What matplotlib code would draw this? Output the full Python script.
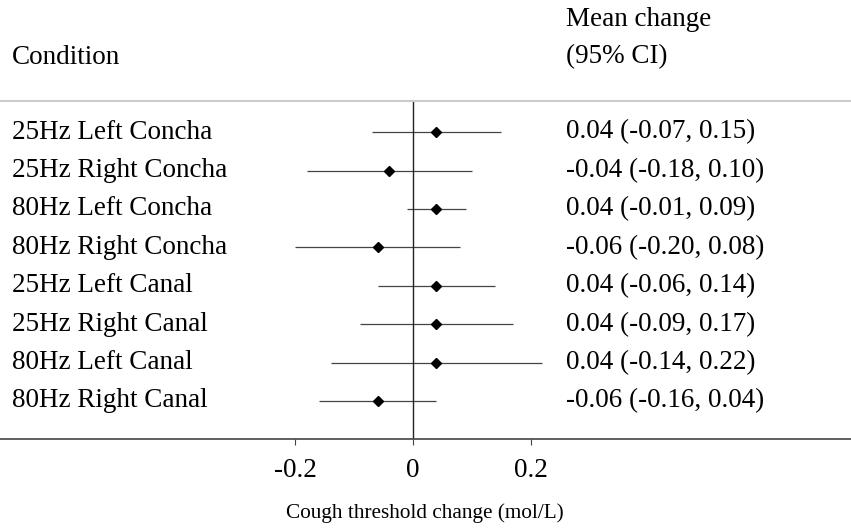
import matplotlib.pyplot as plt

conditions = ["25Hz Left Concha", "25Hz Right Concha", "80Hz Left Concha", "80Hz Right Concha",
              "25Hz Left Canal", "25Hz Right Canal", "80Hz Left Canal", "80Hz Right Canal"]
means = [0.04, -0.04, 0.04, -0.06, 0.04, 0.04, 0.04, -0.06]
lower = [-0.07, -0.18, -0.01, -0.20, -0.06, -0.09, -0.14, -0.16]
upper = [0.15, 0.10, 0.09, 0.08, 0.14, 0.17, 0.22, 0.04]

plt.rcParams['font.family'] = ['Liberation Serif', 'DejaVu Serif']

W, H = 851, 532
FS = 19.5
fig = plt.figure(figsize=(W / 100, H / 100), dpi=100)
ax = fig.add_axes([0, 1 - 439 / H, 1, (439 - 101) / H])

rows = list(range(1, len(conditions) + 1))
ax.hlines(rows, lower, upper, color='#444444', lw=0.9)
ax.plot(means, rows, 'D', color='black', ms=5.5)
ax.axvline(0, color='#222222', lw=1)

ax.set_xlim(-413 / 587.5, (W - 413) / 587.5)
ax.set_ylim(8.99, 0.19)
ax.set_yticks([])
ax.set_xticks([-0.2, 0, 0.2])
ax.set_xticklabels(['-0.2', '0', '0.2'], fontsize=FS)
ax.tick_params(axis='x', direction='out', length=4.5, color='#444444', pad=9)
for s in ['left', 'right']:
    ax.spines[s].set_visible(False)
ax.spines['top'].set_color('#cccccc')
ax.spines['top'].set_linewidth(1.5)
ax.spines['bottom'].set_color('#444444')
ax.spines['bottom'].set_linewidth(1.2)

# condition names and CI text
tr = ax.get_yaxis_transform()
for r, name, m, lo, hi in zip(rows, conditions, means, lower, upper):
    ax.text(12 / W, r, name, transform=tr, fontsize=FS, va='center', ha='left')
    ax.text(566 / W, r, f'{m:.2f} ({lo:.2f}, {hi:.2f})', transform=tr,
            fontsize=FS, va='center', ha='left')

fig.text(12 / W, 1 - 57 / H, 'Condition', fontsize=FS, va='center', ha='left')
fig.text(566 / W, 1 - 19 / H, 'Mean change', fontsize=FS, va='center', ha='left')
fig.text(566 / W, 1 - 57 / H, '(95% CI)', fontsize=FS, va='center', ha='left')
fig.text(425 / W, 1 - 513 / H, 'Cough threshold change (mol/L)', fontsize=15.3,
         va='center', ha='center')

fig.savefig('out.png', dpi=100)
